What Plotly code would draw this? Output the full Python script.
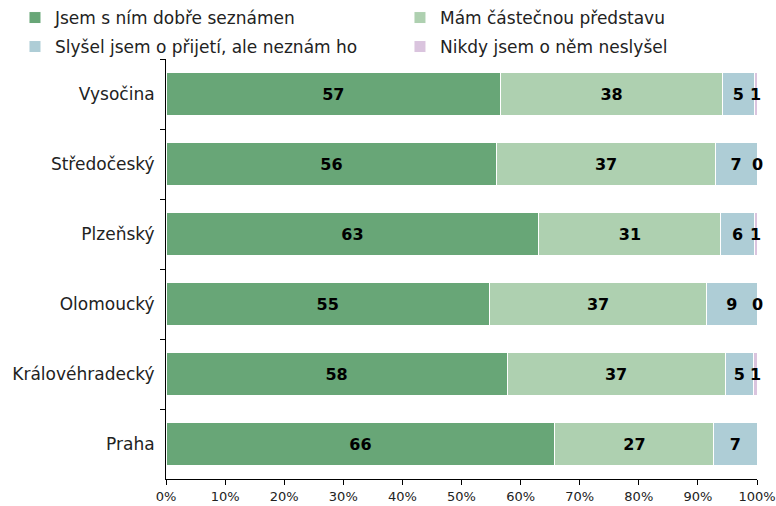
import plotly.graph_objects as go

regions = ["Vysočina", "Středočeský", "Plzeňský", "Olomoucký", "Královéhradecký", "Praha"]
series_names = ["Jsem s ním dobře seznámen", "Mám částečnou představu",
                "Slyšel jsem o přijetí, ale neznám ho", "Nikdy jsem o něm neslyšel"]
dobre = [56.6, 56.0, 63.1, 54.7, 57.7, 65.8]
castecne = [37.6, 36.9, 30.8, 36.8, 36.9, 26.9]
slysel = [5.3, 7.1, 5.6, 8.5, 4.8, 7.3]
nikdy = [0.6, 0.0, 0.6, 0.0, 0.6, None]
colors = ["#68a677", "#aed0b0", "#aecdd6", "#dac4de"]

FONT = "DejaVu Sans"
fig = go.Figure()
vals_list = [dobre, castecne, slysel, nikdy]
legend_ids = ["legend", "legend2", "legend3", "legend4"]
for i, (name, vals) in enumerate(zip(series_names, vals_list)):
    show_text = i < 3
    fig.add_trace(go.Bar(
        y=regions, x=vals, name=name, orientation="h", showlegend=True,
        marker=dict(color=colors[i], line=dict(color="white", width=1)),
        texttemplate="%{x:.0f}" if show_text else None,
        textposition="inside" if show_text else "none",
        insidetextanchor="middle",
        textfont=dict(family=FONT, size=16, color="black", weight="bold"),
        legend=legend_ids[i],
    ))

# labels for the thin last segment
for r, a, b, c, d in zip(regions, dobre, castecne, slysel, nikdy):
    if d is None:
        continue
    start = a + b + c
    fig.add_annotation(x=start + d / 2, y=r, text=f"{d:.0f}", showarrow=False,
                       xanchor="center", yanchor="middle",
                       font=dict(family=FONT, size=16, color="black", weight="bold"))

leg_common = dict(orientation="h", xanchor="left", yanchor="middle",
                  font=dict(size=17, color="#222"),
                  itemwidth=30, bgcolor="rgba(0,0,0,0)", visible=True)
col_x = [-0.2555, 0.3959]
row_y = [1.0976, 1.0286]
legend_layout = {}
for i, lid in enumerate(legend_ids):
    legend_layout[lid] = dict(x=col_x[i % 2], y=row_y[i // 2], **leg_common)

fig.update_layout(
    barmode="stack", bargap=0.39,
    width=776, height=506,
    showlegend=True,
    margin=dict(l=166, r=19, t=59, b=27, autoexpand=False),
    plot_bgcolor="white", paper_bgcolor="white",
    font=dict(family=FONT, size=15, color="#222"),
    uniformtext=dict(mode="show", minsize=16),
    **legend_layout,
)
fig.update_xaxes(range=[0, 100], dtick=10, ticksuffix="%", showgrid=False,
                 showline=True, linecolor="black", linewidth=1,
                 ticks="outside", ticklen=5, tickcolor="black",
                 tickfont=dict(size=13, color="#222"), zeroline=False)
fig.update_yaxes(autorange="reversed", showline=True, linecolor="black", linewidth=1,
                 ticks="outside", ticklen=5, tickcolor="black", tickson="boundaries",
                 ticklabelstandoff=7,
                 tickfont=dict(size=17, color="#222"), showgrid=False)

fig.write_html("out.html", config={"displayModeBar": False},
               post_script="document.body.style.margin='0';")
